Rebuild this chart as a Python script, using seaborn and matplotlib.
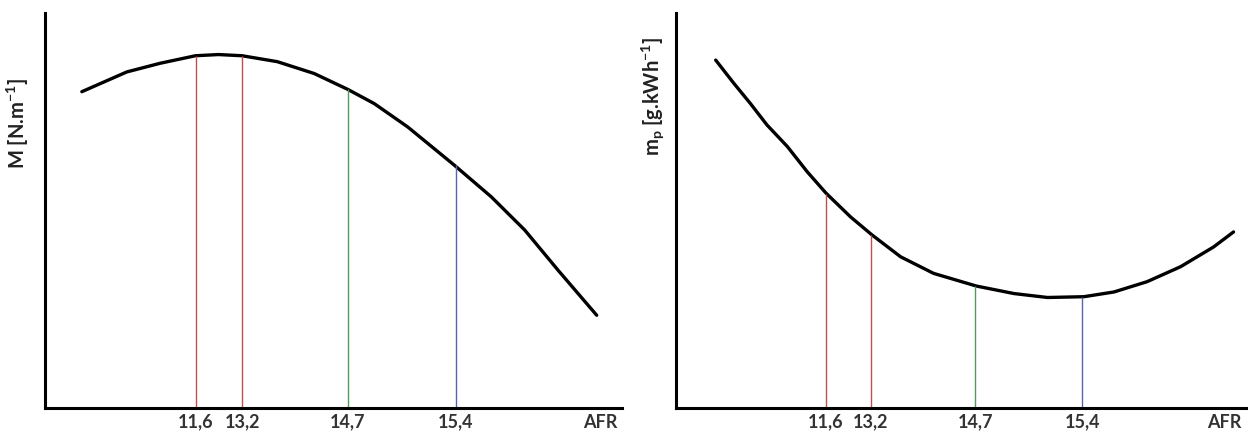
import numpy as np
import matplotlib.pyplot as plt
import pandas as pd
import seaborn as sns

####figure settings####
sns.set_style("white")
plt.rcParams["font.family"] = ["Lato", "DejaVu Sans"]
plt.rcParams["mathtext.fontset"] = "custom"
plt.rcParams["mathtext.rm"] = "Lato:bold"
plt.rcParams["mathtext.it"] = "Lato:bold"
plt.rcParams["mathtext.bf"] = "Lato:bold"
plt.rcParams["mathtext.default"] = "bf"
#######################

# schematic: x and y in relative units (0-100) along each axis
afr_labels = ["11,6", "13,2", "14,7", "15,4"]
afr_pos = [26.2, 34.2, 52.5, 71.3]
afr_colors = ["#c0504d", "#c0504d", "#4f9d5b", "#5a64a8"]

# torque curve M
m_x = [6.4, 14.2, 20.0, 26.1, 30.1, 34.2, 40.3, 46.7, 52.5, 57.1, 62.9, 71.0, 77.4, 83.2, 89.0, 95.7]
m_y = [80.1, 85.1, 87.3, 89.2, 89.5, 89.2, 87.7, 84.7, 80.7, 77.1, 71.2, 61.5, 53.5, 45.1, 34.9, 23.5]
m_lines = [89.2, 89.2, 80.7, 61.5]

# specific fuel consumption curve mp
mp_x = [6.9, 10.1, 13.0, 15.9, 19.5, 23.0, 26.3, 30.6, 34.4, 39.4, 45.2, 52.7,
        59.3, 65.2, 71.6, 76.9, 82.7, 88.6, 94.4, 97.9]
mp_y = [88.1, 82.2, 77.1, 71.7, 66.2, 59.8, 54.4, 48.4, 43.8, 38.3, 34.1, 30.9,
        29.0, 28.0, 28.2, 29.4, 32.0, 35.8, 40.8, 44.6]
mp_lines = [54.1, 43.8, 30.8, 28.2]

afr_name_pos = 96.3

fig = plt.figure(figsize=(12.48, 4.36), dpi=100)
ax1 = fig.add_axes([0.036, 0.064, 0.462, 0.906])
ax2 = fig.add_axes([0.542, 0.064, 0.456, 0.906])

panels = [
    (ax1, m_x, m_y, m_lines, r"M [N.m$^{-1}$]", (-0.024, 0.72)),
    (ax2, mp_x, mp_y, mp_lines, r"m$_{p}$ [g.kWh$^{-1}$]", (-0.019, 0.79)),
]

for ax, xs, ys, tops, ylab, lab_xy in panels:
    df = pd.DataFrame({"x": xs, "y": ys})
    sns.lineplot(data=df, x="x", y="y", color="black", linewidth=2.4, ax=ax, sort=False)
    for pos, top, col in zip(afr_pos, tops, afr_colors):
        ax.vlines(pos, 0, top, color=col, linewidth=1.0)

    ax.set_xlim(0, 100)
    ax.set_ylim(0, 100)
    ax.set_xticks(afr_pos + [afr_name_pos])
    ax.set_xticklabels(afr_labels + ["AFR"], fontsize=13, fontweight="bold", color="#333333")
    ax.tick_params(axis="x", length=0, pad=4)
    ax.set_yticks([])
    ax.set_xlabel("")
    ax.set_ylabel(ylab, fontsize=14.5, fontweight="bold", color="#222222")
    ax.yaxis.set_label_coords(*lab_xy)

    ax.spines["right"].set_visible(False)
    ax.spines["top"].set_visible(False)
    ax.spines["left"].set_linewidth(2.2)
    ax.spines["bottom"].set_linewidth(2.2)
    ax.spines["left"].set_color("black")
    ax.spines["bottom"].set_color("black")

plt.savefig("out.png", dpi=100)
